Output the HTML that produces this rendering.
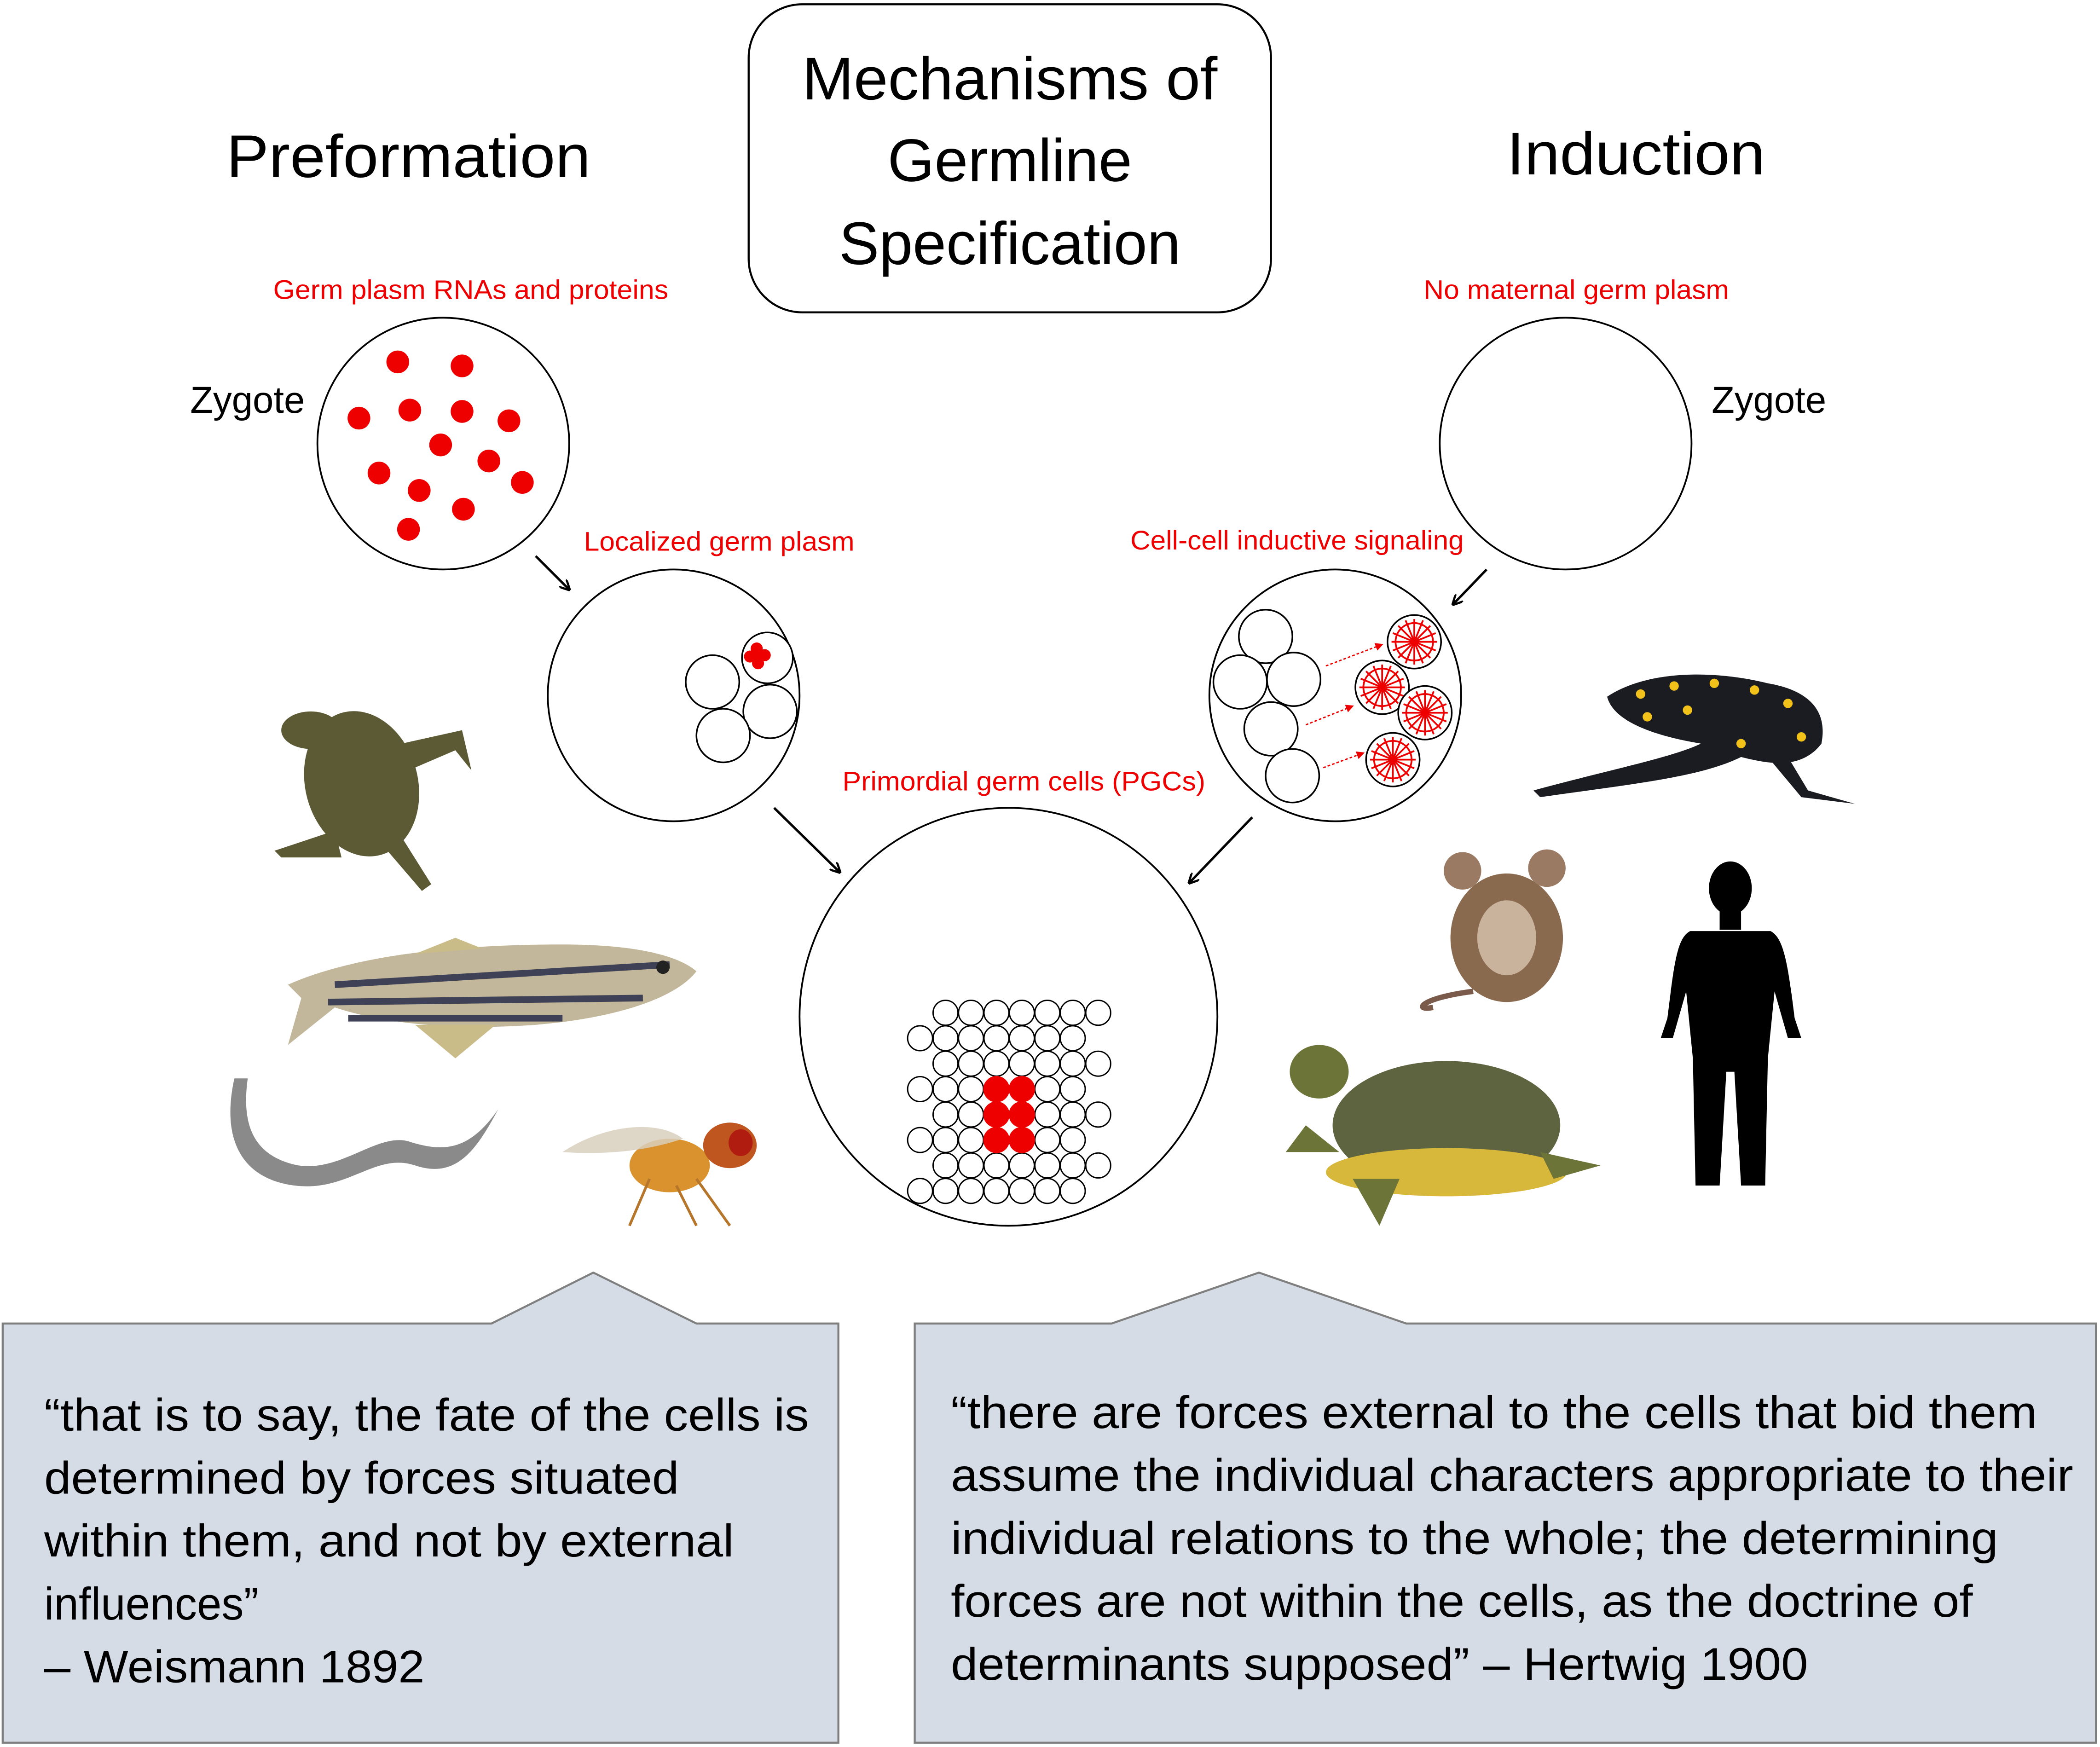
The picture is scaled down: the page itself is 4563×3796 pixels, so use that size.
<!DOCTYPE html>
<html><head><meta charset="utf-8"><style>
html,body{margin:0;padding:0;background:#fff}
svg{display:block}
text{font-family:"Liberation Sans",sans-serif}
</style></head><body>
<svg width="4563" height="3796" viewBox="0 0 1568 1304" xmlns="http://www.w3.org/2000/svg">
<defs>
<marker id="ah" markerWidth="8" markerHeight="8" refX="7" refY="4" orient="auto" markerUnits="userSpaceOnUse"><path d="M0,0 L8,4 L0,8" fill="none" stroke="#000" stroke-width="1.6"/></marker>
<marker id="ahr" markerWidth="6" markerHeight="6" refX="5" refY="3" orient="auto" markerUnits="userSpaceOnUse"><path d="M0,0 L6,3 L0,6 Z" fill="#e00"/></marker>
<g id="spoke">
<circle r="20" fill="#fff" stroke="#000" stroke-width="1.2"/>
<g stroke="#e00" stroke-width="1.3">
<line x1="-17" y1="0" x2="17" y2="0"/><line x1="0" y1="-17" x2="0" y2="17"/>
<line x1="-12" y1="-12" x2="12" y2="12"/><line x1="-12" y1="12" x2="12" y2="-12"/>
<line x1="-16" y1="-6.5" x2="16" y2="6.5"/><line x1="-16" y1="6.5" x2="16" y2="-6.5"/>
<line x1="-6.5" y1="-16" x2="6.5" y2="16"/><line x1="-6.5" y1="16" x2="6.5" y2="-16"/>
</g>
<circle r="14" fill="none" stroke="#e00" stroke-width="1.3"/>
</g>
</defs>

<!-- title -->
<rect x="559" y="3" width="390" height="230" rx="40" fill="#fff" stroke="#000" stroke-width="1.5"/>
<g font-size="45" text-anchor="middle" fill="#000">
<text x="754" y="74" textLength="310" lengthAdjust="spacingAndGlyphs">Mechanisms of</text>
<text x="754" y="135">Germline</text>
<text x="754" y="197">Specification</text>
</g>
<text x="169" y="132" font-size="45" textLength="272" lengthAdjust="spacingAndGlyphs">Preformation</text>
<text x="1125" y="130" font-size="45" textLength="193" lengthAdjust="spacingAndGlyphs">Induction</text>

<!-- left zygote -->
<text x="204" y="223" font-size="20" fill="#e00" textLength="295" lengthAdjust="spacingAndGlyphs">Germ plasm RNAs and proteins</text>
<circle cx="331" cy="331" r="94" fill="#fff" stroke="#000" stroke-width="1.3"/>
<g fill="#e00">
<circle cx="297" cy="270" r="8.5"/><circle cx="345" cy="273" r="8.5"/><circle cx="306" cy="306" r="8.5"/>
<circle cx="345" cy="307" r="8.5"/><circle cx="268" cy="312" r="8.5"/><circle cx="380" cy="314" r="8.5"/>
<circle cx="329" cy="332" r="8.5"/><circle cx="365" cy="344" r="8.5"/><circle cx="283" cy="353" r="8.5"/>
<circle cx="313" cy="366" r="8.5"/><circle cx="390" cy="360" r="8.5"/><circle cx="346" cy="380" r="8.5"/>
<circle cx="305" cy="395" r="8.5"/>
</g>
<text x="142" y="308" font-size="28">Zygote</text>
<line x1="400" y1="415" x2="425" y2="440" stroke="#000" stroke-width="1.8" marker-end="url(#ah)"/>

<text x="436" y="411" font-size="20" fill="#e00" textLength="202" lengthAdjust="spacingAndGlyphs">Localized germ plasm</text>
<circle cx="503" cy="519" r="94" fill="#fff" stroke="#000" stroke-width="1.3"/>
<g fill="#fff" stroke="#000" stroke-width="1.2">
<circle cx="532" cy="509" r="20"/><circle cx="573" cy="491" r="19"/><circle cx="575" cy="531" r="20"/><circle cx="540" cy="549" r="20"/>
</g>
<g fill="#e00"><circle cx="565" cy="484" r="4.5"/><circle cx="571" cy="489" r="4.5"/><circle cx="566" cy="495" r="4.5"/><circle cx="560" cy="490" r="4.5"/><circle cx="565" cy="490" r="4"/></g>
<line x1="578" y1="603" x2="627" y2="651" stroke="#000" stroke-width="1.8" marker-end="url(#ah)"/>

<!-- PGC -->
<text x="629" y="590" font-size="20" fill="#e00" textLength="271" lengthAdjust="spacingAndGlyphs">Primordial germ cells (PGCs)</text>
<circle cx="753" cy="759" r="156" fill="#fff" stroke="#000" stroke-width="1.3"/>
<g fill="#fff" stroke="#000" stroke-width="1">
<circle cx="706" cy="756" r="9.3"/><circle cx="725" cy="756" r="9.3"/><circle cx="744" cy="756" r="9.3"/><circle cx="763" cy="756" r="9.3"/><circle cx="782" cy="756" r="9.3"/><circle cx="801" cy="756" r="9.3"/><circle cx="820" cy="756" r="9.3"/>
<circle cx="687" cy="775" r="9.3"/><circle cx="706" cy="775" r="9.3"/><circle cx="725" cy="775" r="9.3"/><circle cx="744" cy="775" r="9.3"/><circle cx="763" cy="775" r="9.3"/><circle cx="782" cy="775" r="9.3"/><circle cx="801" cy="775" r="9.3"/>
<circle cx="706" cy="794" r="9.3"/><circle cx="725" cy="794" r="9.3"/><circle cx="744" cy="794" r="9.3"/><circle cx="763" cy="794" r="9.3"/><circle cx="782" cy="794" r="9.3"/><circle cx="801" cy="794" r="9.3"/><circle cx="820" cy="794" r="9.3"/>
<circle cx="687" cy="813" r="9.3"/><circle cx="706" cy="813" r="9.3"/><circle cx="725" cy="813" r="9.3"/><circle cx="782" cy="813" r="9.3"/><circle cx="801" cy="813" r="9.3"/>
<circle cx="706" cy="832" r="9.3"/><circle cx="725" cy="832" r="9.3"/><circle cx="782" cy="832" r="9.3"/><circle cx="801" cy="832" r="9.3"/><circle cx="820" cy="832" r="9.3"/>
<circle cx="687" cy="851" r="9.3"/><circle cx="706" cy="851" r="9.3"/><circle cx="725" cy="851" r="9.3"/><circle cx="782" cy="851" r="9.3"/><circle cx="801" cy="851" r="9.3"/>
<circle cx="706" cy="870" r="9.3"/><circle cx="725" cy="870" r="9.3"/><circle cx="744" cy="870" r="9.3"/><circle cx="763" cy="870" r="9.3"/><circle cx="782" cy="870" r="9.3"/><circle cx="801" cy="870" r="9.3"/><circle cx="820" cy="870" r="9.3"/>
<circle cx="687" cy="889" r="9.3"/><circle cx="706" cy="889" r="9.3"/><circle cx="725" cy="889" r="9.3"/><circle cx="744" cy="889" r="9.3"/><circle cx="763" cy="889" r="9.3"/><circle cx="782" cy="889" r="9.3"/><circle cx="801" cy="889" r="9.3"/>
</g>
<g fill="#e00" stroke="#e00">
<circle cx="744" cy="813" r="9.3"/><circle cx="763" cy="813" r="9.3"/><circle cx="744" cy="832" r="9.3"/><circle cx="763" cy="832" r="9.3"/><circle cx="744" cy="851" r="9.3"/><circle cx="763" cy="851" r="9.3"/>
</g>

<!-- right -->
<text x="1063" y="223" font-size="20" fill="#e00" textLength="228" lengthAdjust="spacingAndGlyphs">No maternal germ plasm</text>
<circle cx="1169" cy="331" r="94" fill="#fff" stroke="#000" stroke-width="1.3"/>
<text x="1278" y="308" font-size="28">Zygote</text>
<line x1="1110" y1="425" x2="1085" y2="451" stroke="#000" stroke-width="1.8" marker-end="url(#ah)"/>
<text x="844" y="410" font-size="20" fill="#e00" textLength="249" lengthAdjust="spacingAndGlyphs">Cell-cell inductive signaling</text>
<circle cx="997" cy="519" r="94" fill="#fff" stroke="#000" stroke-width="1.3"/>
<g fill="#fff" stroke="#000" stroke-width="1.2">
<circle cx="945" cy="475" r="20"/><circle cx="926" cy="509" r="20"/><circle cx="966" cy="507" r="20"/><circle cx="949" cy="544" r="20"/><circle cx="965" cy="579" r="20"/>
</g>
<use href="#spoke" x="1056" y="479"/><use href="#spoke" x="1032" y="513"/><use href="#spoke" x="1064" y="532"/><use href="#spoke" x="1040" y="567"/>
<g stroke="#e00" stroke-width="1" stroke-dasharray="2,1.5" marker-end="url(#ahr)">
<line x1="990" y1="497" x2="1032" y2="481"/><line x1="975" y1="541" x2="1010" y2="527"/><line x1="988" y1="573" x2="1018" y2="562"/>
</g>
<line x1="935" y1="610" x2="888" y2="659" stroke="#000" stroke-width="1.8" marker-end="url(#ah)"/>

<!-- animals (approximate) -->
<g fill="#5b5a35">
<ellipse cx="270" cy="585" rx="42" ry="55" transform="rotate(-15 270 585)"/>
<ellipse cx="232" cy="545" rx="22" ry="14"/>
<path d="M300,555 L345,545 L352,575 L340,560 L305,575Z"/>
<path d="M250,620 L205,635 L210,640 L255,640Z"/>
<path d="M285,630 L315,665 L322,660 L300,625Z"/>
</g>
<path d="M215,735 C260,715 330,705 420,705 C470,705 505,712 520,725 C505,745 460,760 400,765 C330,770 280,762 250,752 L215,780 L225,745 Z" fill="#c2b79a"/>
<path d="M250,735 L500,720 M245,748 L480,745 M260,760 L420,760" stroke="#3f4257" stroke-width="5"/>
<path d="M310,712 L340,700 L360,708Z M310,765 L340,790 L370,765Z" fill="#c9bc88"/>
<circle cx="495" cy="722" r="5" fill="#222"/>
<path d="M175,805 C165,850 180,880 220,885 C260,890 280,860 310,870 C340,880 355,860 372,828 C350,860 330,860 305,852 C280,845 250,880 215,868 C190,860 180,840 185,805Z" fill="#8a8a8a"/>
<ellipse cx="500" cy="870" rx="30" ry="20" fill="#d9922d"/>
<ellipse cx="545" cy="855" rx="20" ry="17" fill="#c0561f"/>
<ellipse cx="553" cy="853" rx="9" ry="10" fill="#b01c10"/>
<path d="M420,860 C450,840 490,835 510,850 C480,860 450,862 420,860Z" fill="#d8cfbd" opacity="0.85"/>
<path d="M485,880 L470,915 M505,885 L520,915 M520,880 L545,915" stroke="#b5762c" stroke-width="2"/>
<path d="M1200,520 C1230,500 1280,500 1320,510 C1350,515 1365,530 1360,555 C1345,575 1320,570 1300,565 C1270,580 1220,585 1150,595 L1145,590 C1200,575 1250,565 1270,555 C1240,550 1205,540 1200,520Z" fill="#1b1b22"/>
<g fill="#f2c21a">
<circle cx="1225" cy="518" r="3.5"/><circle cx="1250" cy="512" r="3.5"/><circle cx="1280" cy="510" r="3.5"/><circle cx="1310" cy="515" r="3.5"/><circle cx="1335" cy="525" r="3.5"/><circle cx="1345" cy="550" r="3.5"/><circle cx="1300" cy="555" r="3.5"/><circle cx="1260" cy="530" r="3.5"/><circle cx="1230" cy="535" r="3.5"/>
</g>
<path d="M1320,565 L1345,595 L1385,600 L1350,590 L1335,565Z" fill="#1b1b22"/>
<ellipse cx="1125" cy="700" rx="42" ry="48" fill="#8a6a4f"/>
<circle cx="1092" cy="650" r="14" fill="#9a7a62"/><circle cx="1155" cy="648" r="14" fill="#9a7a62"/>
<ellipse cx="1125" cy="700" rx="22" ry="28" fill="#c9b39c"/>
<path d="M1100,740 C1060,745 1055,755 1070,752" stroke="#7a5a4a" stroke-width="4" fill="none"/>
<ellipse cx="1080" cy="840" rx="85" ry="48" fill="#5e6440"/>
<ellipse cx="1080" cy="875" rx="90" ry="18" fill="#d8b83a"/>
<ellipse cx="985" cy="800" rx="22" ry="20" fill="#6c7438"/>
<path d="M1150,860 L1195,870 L1160,880Z M1010,880 L1030,915 L1045,880Z M975,840 L960,860 L1000,860Z" fill="#6c7438"/>
<g fill="#000">
<ellipse cx="1292" cy="663" rx="16" ry="20"/>
<rect x="1284" y="680" width="16" height="14"/>
<path d="M1262,695 L1322,695 C1332,700 1335,720 1340,760 L1345,775 L1335,775 L1325,740 L1320,790 L1318,885 L1300,885 L1295,800 L1289,800 L1284,885 L1266,885 L1264,790 L1259,740 L1249,775 L1240,775 L1245,760 C1250,720 1252,700 1262,695Z"/>
</g>

<!-- callouts -->
<path d="M2,988 L367,988 L443,950 L520,988 L626,988 L626,1301 L2,1301 Z" fill="#d6dce5" stroke="#7f7f7f" stroke-width="1.5"/>
<path d="M683,988 L830,988 L940,950 L1050,988 L1565,988 L1565,1301 L683,1301 Z" fill="#d6dce5" stroke="#7f7f7f" stroke-width="1.5"/>
<g font-size="34" fill="#000">
<text x="33" y="1068" textLength="571" lengthAdjust="spacingAndGlyphs">“that is to say, the fate of the cells is</text>
<text x="33" y="1115" textLength="474" lengthAdjust="spacingAndGlyphs">determined by forces situated</text>
<text x="33" y="1162" textLength="515" lengthAdjust="spacingAndGlyphs">within them, and not by external</text>
<text x="33" y="1209" textLength="160" lengthAdjust="spacingAndGlyphs">influences”</text>
<text x="33" y="1256" textLength="284" lengthAdjust="spacingAndGlyphs">– Weismann 1892</text>
<text x="710" y="1066" textLength="811" lengthAdjust="spacingAndGlyphs">“there are forces external to the cells that bid them</text>
<text x="710" y="1113" textLength="838" lengthAdjust="spacingAndGlyphs">assume the individual characters appropriate to their</text>
<text x="710" y="1160" textLength="782" lengthAdjust="spacingAndGlyphs">individual relations to the whole; the determining</text>
<text x="710" y="1207" textLength="763" lengthAdjust="spacingAndGlyphs">forces are not within the cells, as the doctrine of</text>
<text x="710" y="1254" textLength="640" lengthAdjust="spacingAndGlyphs">determinants supposed” – Hertwig 1900</text>
</g>
</svg>
</body></html>
